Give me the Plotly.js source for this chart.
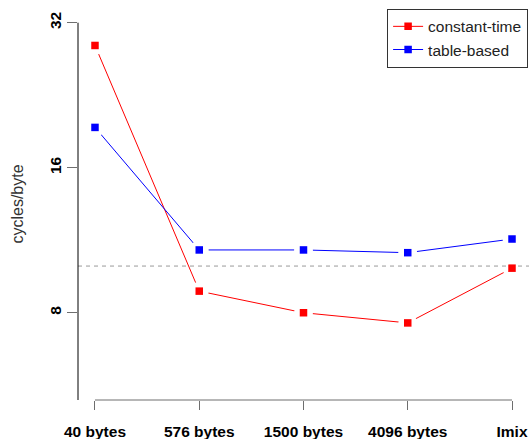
<!DOCTYPE html>
<html>
<head>
<meta charset="utf-8">
<script src="https://cdn.plot.ly/plotly-3.0.1.min.js"></script>
<style>html,body{margin:0;padding:0;background:#fff;}#chart{width:529px;height:439px;}</style>
</head>
<body>
<div id="chart"></div>
<script>
// ---- data ----
var categories = ["40 bytes", "576 bytes", "1500 bytes", "4096 bytes", "Imix"];
var constantTime = [28.7, 8.87, 8.0, 7.62, 9.9];
var tableBased = [19.4, 10.8, 10.8, 10.66, 11.38];
var seriesNames = ["constant-time", "table-based"];
var seriesColors = ["#ff0000", "#0000ff"];
var yTickVals = [8, 16, 32];
var yTickText = ["8", "16", "32"];
var referenceLevel = 10;
var yTitle = "cycles/byte";

var series = [constantTime, tableBased];
var idx = categories.map(function (c, i) { return i; });
var FONT = "Liberation Sans, Arial, Helvetica, sans-serif";
var X_RANGE = [-0.163, 4.163];

var traces = [];
// connecting lines
series.forEach(function (vals, s) {
  traces.push({x: idx, y: vals, mode: "lines", line: {color: seriesColors[s], width: 1},
    showlegend: false, hoverinfo: "skip"});
});
// white gaps around the points (R type="b")
series.forEach(function (vals, s) {
  traces.push({x: idx, y: vals, mode: "markers",
    marker: {symbol: "circle", size: 19, color: "#ffffff"},
    showlegend: false, hoverinfo: "skip"});
});
// dashed reference line across the whole plot region
traces.push({x: X_RANGE, y: [referenceLevel, referenceLevel], mode: "lines",
  line: {color: "#9a9a9a", width: 1, dash: "4px,4px"}, showlegend: false, hoverinfo: "skip"});
// the points
series.forEach(function (vals, s) {
  traces.push({x: idx, y: vals, mode: "markers", name: seriesNames[s],
    marker: {symbol: "square", size: 7.5, color: seriesColors[s]}, showlegend: false});
});
// legend entries
series.forEach(function (vals, s) {
  traces.push({x: [null], y: [null], mode: "lines+markers", name: seriesNames[s],
    line: {color: seriesColors[s], width: 1},
    marker: {symbol: "square", size: 7.5, color: seriesColors[s]}});
});

var yBottom = Math.pow(10, 0.72195);
var layout = {
  width: 529, height: 439,
  margin: {l: 78, r: 0, t: 8, b: 39, pad: 0},
  paper_bgcolor: "#ffffff", plot_bgcolor: "#ffffff",
  font: {family: FONT, size: 15.5, color: "#000"},
  xaxis: {
    range: X_RANGE, tickmode: "array", tickvals: idx, ticktext: categories,
    showgrid: false, zeroline: false, showline: false,
    ticks: "outside", ticklen: 9, tickwidth: 1, tickcolor: "#6e6e6e", ticklabelstandoff: 8,
    tickfont: {family: FONT, size: 15.5, color: "#000", weight: "bold"},
    fixedrange: true
  },
  yaxis: {
    type: "log", range: [0.72195, 1.53567],
    tickmode: "array", tickvals: yTickVals, ticktext: yTickText, tickangle: -90,
    showgrid: false, zeroline: false, showline: false,
    ticks: "outside", ticklen: 10, tickwidth: 1, tickcolor: "#6e6e6e",
    tickfont: {family: FONT, size: 15.5, color: "#000", weight: "bold"},
    title: {text: yTitle, font: {family: FONT, size: 16, color: "#333"}, standoff: 19},
    fixedrange: true
  },
  shapes: [
    {type: "line", xref: "paper", yref: "y", x0: 0, x1: 0, y0: yBottom, y1: yTickVals[yTickVals.length - 1],
      line: {color: "#000", width: 1}},
    {type: "line", xref: "x", yref: "paper", x0: 0, x1: categories.length - 1, y0: 0, y1: 0,
      line: {color: "#6e6e6e", width: 1}}
  ],
  legend: {
    x: 0.998, xanchor: "right", y: 0.998, yanchor: "top",
    bgcolor: "#ffffff", bordercolor: "#333", borderwidth: 1,
    font: {family: FONT, size: 15.5, color: "#222"},
    tracegroupgap: 0
  },
  showlegend: true
};

Plotly.newPlot("chart", traces, layout, {displayModeBar: false, staticPlot: true});
</script>
</body>
</html>
